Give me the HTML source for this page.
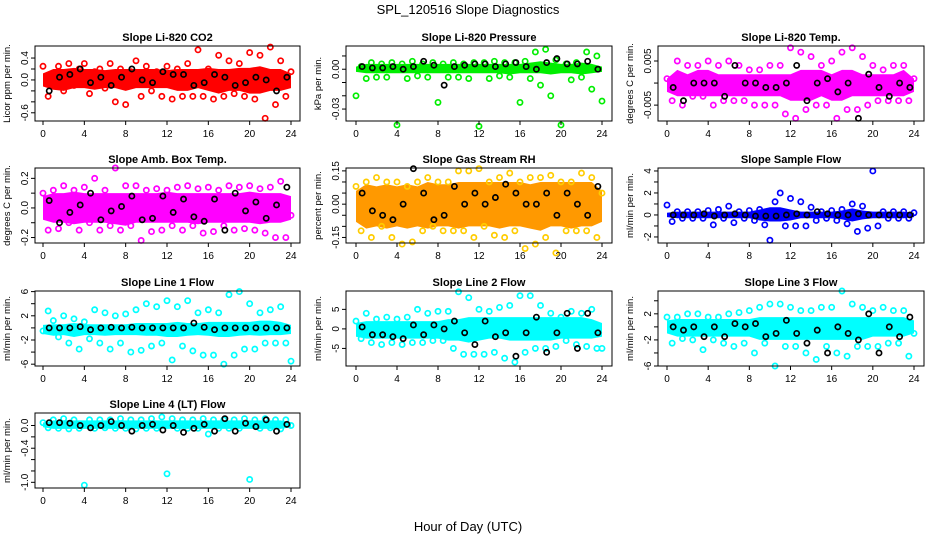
<!DOCTYPE html>
<html><head><meta charset="utf-8"><style>
body{margin:0;background:#fff;}
svg text{font-family:"Liberation Sans",Arial,sans-serif;}
</style></head><body>
<svg id="chart" width="936" height="540" xmlns="http://www.w3.org/2000/svg">
<text x="468" y="14" text-anchor="middle" font-size="13">SPL_120516  Slope Diagnostics</text>
<text x="468" y="531" text-anchor="middle" font-size="13">Hour of Day (UTC)</text>
</svg>
<script>
const hoursBand=[0,1,2,3,4,5,6,7,8,9,10,11,12,13,14,15,16,17,18,19,20,21,22,23,24];
const titles=["Slope Li-820 CO2","Slope Li-820 Pressure","Slope Li-820 Temp.","Slope Amb. Box Temp.","Slope Gas Stream RH","Slope Sample Flow","Slope Line 1 Flow","Slope Line 2 Flow","Slope Line 3 Flow","Slope Line 4 (LT) Flow"];
const yTitles=["Licor ppm per min.","kPa per min.","degrees C per min.","degrees C per min.","percent per min.","ml/min per min.","ml/min per min.","ml/min per min.","ml/min per min.","ml/min per min."];
const colors=["#ff0000","#00ee00","#ff00ff","#ff00ff","#ffcc00","#0000ff","#00ffff","#00ffff","#00ffff","#00ffff"];
const bandColors=["#ff0000","#00ee00","#ff00ff","#ff00ff","#ff9900","#0000ff","#00ffff","#00ffff","#00ffff","#00ffff"];
const yTicks=[[-0.6,-0.4,-0.2,0,0.2,0.4],[-0.03,-0.02,-0.01,0,0.01],[-0.005,0,0.005],[-0.2,-0.1,0,0.1,0.2],[-0.15,-0.1,-0.05,0,0.05,0.1,0.15],[-2,-1,0,1,2,3,4],[-6,-4,-2,0,2,4,6],[-5,0,5],[-6,-4,-2,0,2,4],[-1,-0.8,-0.6,-0.4,-0.2,0]];
const yLabels=[["-0.6","","","0.0","","0.4"],["-0.03","","","0.00",""],["-0.005","","0.005"],["-0.2","","0.0","","0.2"],["-0.15","","","0.00","","","0.15"],["-2","","0","","2","","4"],["-6","","-2","","2","","6"],["-5","0","5"],["-6","","-2","","2",""],["-1.0","","","-0.4","","0.0"]];
const yRanges=[[-0.75,0.62],[-0.039,0.0175],[-0.0086,0.0084],[-0.237,0.27],[-0.175,0.163],[-2.55,4.27],[-6.3,6.1],[-9.5,9.7],[-6,5.5],[-1.1,0.22]];
const bandLo=[
[-.12,-.18,-.2,-.15,-.15,-.18,-.15,-.15,-.2,-.15,-.15,-.15,-.15,-.2,-.2,-.15,-.2,-.25,-.2,-.2,-.25,-.25,-.2,-.2,-.15],
[-.002,-.003,-.003,-.003,-.003,-.003,-.003,-.003,-.003,-.003,-.003,-.003,-.003,-.003,-.003,-.004,-.003,-.003,-.003,-.004,-.003,-.003,-.004,-.003,-.002],
[-.002,-.003,-.003,-.003,-.003,-.003,-.003,-.003,-.003,-.003,-.003,-.003,-.004,-.004,-.004,-.003,-.004,-.004,-.003,-.003,-.003,-.003,-.003,-.003,-.002],
[-.08,-.1,-.1,-.11,-.1,-.1,-.1,-.11,-.12,-.1,-.1,-.1,-.1,-.1,-.1,-.11,-.1,-.1,-.1,-.1,-.1,-.11,-.1,-.1,-.08],
[-.08,-.11,-.1,-.11,-.1,-.11,-.1,-.11,-.1,-.1,-.11,-.1,-.1,-.1,-.11,-.1,-.1,-.11,-.12,-.1,-.1,-.11,-.1,-.1,-.08],
[-.2,-.3,-.3,-.3,-.3,-.3,-.3,-.3,-.3,-.5,-.6,-.6,-.5,-.3,-.3,-.3,-.3,-.4,-.6,-.4,-.3,-.3,-.3,-.3,-.2],
[-1,-1.3,-1.2,-1.5,-1.2,-1.2,-1.3,-1.2,-1.2,-1.2,-1.3,-1.3,-1.5,-1.5,-1.3,-1.2,-1.3,-1.5,-1.5,-1.3,-1.2,-1.3,-1.2,-1.2,-1],
[-2,-2.5,-2.5,-2.5,-2.5,-2.5,-2.5,-2.5,-2.5,-3,-3,-3.5,-3,-2.5,-2.5,-3,-3,-3,-3,-3,-2.5,-2.5,-2.5,-2.5,-2],
[-1,-1.5,-1.5,-1.5,-1.5,-1.5,-1.5,-1.5,-1.5,-2,-2,-2,-2,-2,-2,-2,-2,-2,-2,-2,-1.5,-1.5,-1.5,-1.5,-1],
[-.03,-.06,-.06,-.06,-.06,-.06,-.06,-.06,-.06,-.06,-.06,-.06,-.06,-.06,-.06,-.06,-.06,-.06,-.06,-.06,-.06,-.06,-.06,-.06,-.03]];
const bandHi=[
[.12,.2,.2,.22,.2,.2,.18,.2,.2,.2,.2,.2,.18,.2,.2,.2,.22,.2,.2,.22,.22,.25,.2,.2,.12],
[.002,.004,.004,.004,.004,.004,.004,.004,.004,.004,.004,.004,.004,.004,.004,.004,.004,.005,.006,.005,.004,.004,.005,.004,.002],
[.001,.003,.002,.003,.003,.002,.002,.002,.002,.002,.002,.002,.002,.003,.003,.003,.002,.003,.003,.002,.002,.002,.002,.003,.001],
[.08,.1,.1,.11,.1,.1,.1,.1,.1,.1,.1,.1,.11,.1,.1,.1,.1,.1,.1,.1,.11,.1,.1,.1,.08],
[.06,.09,.08,.09,.08,.09,.08,.1,.09,.09,.1,.1,.1,.1,.1,.1,.1,.09,.1,.1,.1,.1,.1,.1,.06],
[.2,.3,.3,.3,.3,.3,.3,.3,.3,.5,.7,.7,.5,.3,.3,.3,.3,.4,.6,.4,.3,.3,.3,.3,.2],
[.5,.6,.6,.8,.6,.6,.6,.6,.6,.8,.8,.8,.8,1,.8,.8,1,1,1,1,1,1.2,1.2,1,.5],
[1.5,2,2,2,2,2,2,2,2,2.5,2.5,3,3,3,3,3,3,3,3,3,3,3,3,2.5,1.5],
[1,1.2,1.2,1.2,1.2,1.2,1.2,1.2,1.2,1.5,1.5,1.5,1.5,1.5,1.5,1.5,1.5,1.5,1.5,1.5,1.5,1.5,1.5,1.5,1],
[.05,.09,.09,.09,.09,.09,.09,.09,.09,.09,.09,.09,.09,.09,.09,.09,.09,.09,.09,.09,.09,.09,.09,.09,.05]];
const scatterVals=[
[.25,-.3,.1,.25,-.2,.3,-.1,.2,.3,-.25,.15,.2,-.15,.3,-.4,.2,-.45,.15,.35,-.3,.25,-.2,.15,-.3,.25,-.35,.2,-.3,.3,-.3,.55,-.3,.2,-.35,.45,-.3,.35,-.25,.3,-.3,.5,-.35,.45,-.7,.6,-.45,.35,-.3,.15],
[-.02,.002,-.007,.005,-.006,.004,-.006,.005,-.042,.004,-.007,.006,-.005,.004,-.006,.005,-.025,.004,-.006,.005,-.006,.004,-.007,.005,-.043,.005,-.007,.006,-.005,.005,-.006,.005,-.025,.006,-.007,.013,-.012,.015,-.02,.007,-.042,.004,-.008,.005,-.006,.013,-.015,.01,-.024],
[.001,-.004,.005,-.005,.004,-.003,.004,-.003,.005,-.005,.004,-.004,.005,-.004,.004,-.004,.003,-.005,.003,-.005,.004,-.005,.004,-.007,.008,-.008,.007,-.006,.006,-.005,.004,-.005,.005,-.008,.007,-.006,.008,-.006,.006,-.005,.004,-.004,.003,-.004,.004,-.004,.004,-.004,.001],
[.1,-.15,.12,-.14,.15,-.1,.12,-.15,.14,-.1,.2,-.15,.12,-.12,.27,-.15,.15,-.12,.15,-.22,.12,-.16,.13,-.15,.12,-.12,.14,-.15,.15,-.12,.13,-.17,.14,-.16,.12,-.12,.15,-.15,.14,-.14,.15,-.15,.13,-.17,.14,-.2,.18,-.2,-.05],
[.08,-.12,.1,-.15,.12,-.1,.1,-.15,.1,-.18,.08,-.17,.1,-.12,.12,-.1,.1,-.12,.1,-.12,.15,-.12,.15,-.15,.16,-.1,.1,-.14,.12,-.15,.14,-.12,.1,-.2,.12,-.18,.12,-.15,.13,-.22,.1,-.12,.1,-.12,.14,-.12,.12,-.15,.05],
[.9,-.6,.3,-.3,.3,-.3,.3,-.3,.4,-.9,.5,-.3,.8,-.7,.3,-.3,.4,-.5,.5,-.9,-2.3,1.2,2,-1,1.5,-1,1.2,-1,.7,-.5,.3,-.3,.4,-.5,.5,-.8,1,-1.5,.8,-1.2,4,-1,.3,-.3,.3,-.3,.3,-.3,.2],
[-.5,2.8,1.2,-1.5,2,-2.5,1.5,-3.5,1,-1.8,3,-2.5,2.5,-3.5,2,-2.5,2.3,-4,3,-3.7,4,-3,3.5,-2.5,4.5,-5.3,3.5,-3,4.5,-3.8,2.5,-4.5,3,-4.5,2.5,-6,5.5,-4.5,6,-3.5,4,-3.5,2.5,-2.5,3,-2.5,3.5,-2.5,-5.5],
[2,-2.5,4,-3.5,2.5,-4,3,-3.5,2.5,-4,3,-3.5,5,-3.5,4,-3,4.5,-3,4.5,-5,9.5,-6.5,8,-6.5,5,-6.5,4.5,-6,5.5,-7.5,6,-8.5,8.5,-6,8.5,-5,6,-5,4,-4.5,3,-3,4.5,-4,4,-4.5,5,-5,-5],
[1.5,-2.5,1.5,-1.8,2,-2,2,-3.5,1.5,-2,1.5,-2.5,2,-3,2.2,-2.5,2.5,-4,3,-2.5,3.5,-6,3.5,-3,3,-3,2.5,-4,2.5,-5,3,-3,3,-4,5.5,-4.5,3.5,-3,3,-3,2.5,-3,3,-2.5,2.5,-2.5,2.5,-4.5,-1],
[.05,-.04,.1,-.05,.12,-.06,.1,-.05,-1.05,.1,-.05,.1,-.04,.1,-.05,.12,-.05,.1,-.06,.1,-.05,.12,-.05,.15,-.85,.12,-.05,.1,-.05,.1,-.05,.12,-.15,.1,-.05,.1,-.05,.1,-.05,.12,-.95,.1,-.05,.12,-.04,.1,-.06,.1,0]];
const blackVals=[
[-.2,.05,.1,.2,-.05,.05,-.1,.05,.2,0,-.05,.15,.1,.1,-.1,-.05,.1,.05,-.1,-.05,.05,0,-.2,.05],
[.002,.001,.001,.002,0,.002,.006,.003,-.012,.002,.003,.004,.004,.002,.004,.005,.002,0,.005,.008,.004,.004,.006,0],
[-.001,-.004,0,0,0,-.003,.004,0,0,-.001,-.001,0,.004,-.004,0,.001,-.002,0,-.008,.002,-.001,-.003,0,-.001],
[.05,-.1,-.03,.02,.1,-.08,-.02,.01,.08,-.08,-.07,.08,-.03,.06,-.06,-.09,.06,-.15,.1,-.02,.04,-.07,.02,.14],
[.05,-.03,-.05,-.07,0,.16,.05,-.07,-.05,.08,0,.05,0,.03,.09,.05,0,0,.05,-.05,.05,0,-.05,.08],
[0,0,0,.1,-.1,0,.1,0,-.1,-.1,-.1,0,.1,0,.3,.1,0,0,.1,0,0,0,0,0],
[0,0,0,.2,-.3,0,.1,0,.1,0,0,0,0,0,.8,.1,-.3,0,0,0,0,0,0,0],
[.5,-1.5,-1.5,-2,-2.5,1,-1.5,1,0,2,-1,-4,2,-2,-1,-7,-1,3,-6,-1,4,-5,4,-1],
[0,-.5,0,-1.5,0,-1.5,.5,0,.5,-1.5,-1,1,-1,-2.5,-.5,-4,0,-1,-2,2,-4,0,-1.5,1.5],
[.05,.05,.04,0,-.04,0,.07,0,-.1,0,.02,-.08,0,-.12,-.05,.02,-.1,.12,-.1,.04,-.02,.1,-.1,.02]];

const NS="http://www.w3.org/2000/svg";
const svg=document.getElementById('chart');
const cols=[{l:35,r:300,x0:43,x1:291},{l:346,r:612,x0:356,x1:602},{l:658,r:924,x0:667,x1:914}];
const rows=[{t:46,b:121},{t:168,b:243},{t:291,b:366},{t:413,b:488}];
function mk(tag,attrs,parent){const e=document.createElementNS(NS,tag);for(const k in attrs)e.setAttribute(k,attrs[k]);(parent||svg).appendChild(e);return e;}
for(let p=0;p<10;p++){
  const c=cols[p%3], r=rows[Math.floor(p/3)];
  const g=mk('g',{});
  
  
  const [ymin,ymax]=yRanges[p];
  const xs=h=>c.x0+(c.x1-c.x0)*h/24;
  const ys=v=>r.b-(v-ymin)/(ymax-ymin)*(r.b-r.t);
  const t=mk('text',{x:(c.l+c.r)/2,y:r.t-5,'text-anchor':'middle','font-size':'11','font-weight':'bold'},g);t.textContent=titles[p];
  
  
  const yt=mk('text',{transform:`translate(${c.l-25},${(r.t+r.b)/2}) rotate(-90)`,'text-anchor':'middle','font-size':'9.5'},g);yt.textContent=yTitles[p];
  
  
  let pts=hoursBand.map((h,i)=>xs(h)+','+ys(bandHi[p][i]));
  pts=pts.concat(hoursBand.slice().reverse().map((h,i)=>xs(h)+','+ys(bandLo[p][24-i])));
  const band=mk('polygon',{points:pts.join(' '),fill:bandColors[p]},g);
  
  
  scatterVals[p].forEach((v,i)=>{
    const ci=mk('circle',{cx:xs(i*0.5),cy:ys(v),r:2.6,fill:'none',stroke:colors[p],'stroke-width':1.7},g);
    
    
  });
  blackVals[p].forEach((v,i)=>{
    const ci=mk('circle',{cx:xs(i+0.6),cy:ys(v),r:2.6,fill:'none',stroke:'#000','stroke-width':1.7},g);
    
    
  });
  const box=mk('rect',{x:c.l,y:r.t,width:c.r-c.l,height:r.b-r.t,fill:'none',stroke:'#000','stroke-width':1},g);
  
  
  for(let h=0;h<=24;h+=4){
    mk('line',{x1:xs(h),x2:xs(h),y1:r.b,y2:r.b+4,stroke:'#000'},g);
    const tx=mk('text',{x:xs(h),y:r.b+16,'text-anchor':'middle','font-size':'10'},g);tx.textContent=h;
    
    
  }
  yTicks[p].forEach((v,i)=>{
    mk('line',{x1:c.l-4,x2:c.l,y1:ys(v),y2:ys(v),stroke:'#000'},g);
    if(yLabels[p][i]){
      const tx=mk('text',{transform:`translate(${c.l-7},${ys(v)}) rotate(-90)`,'text-anchor':'middle','font-size':'10'},g);tx.textContent=yLabels[p][i];
      
      
    }
  });
}
</script>
</body></html>
